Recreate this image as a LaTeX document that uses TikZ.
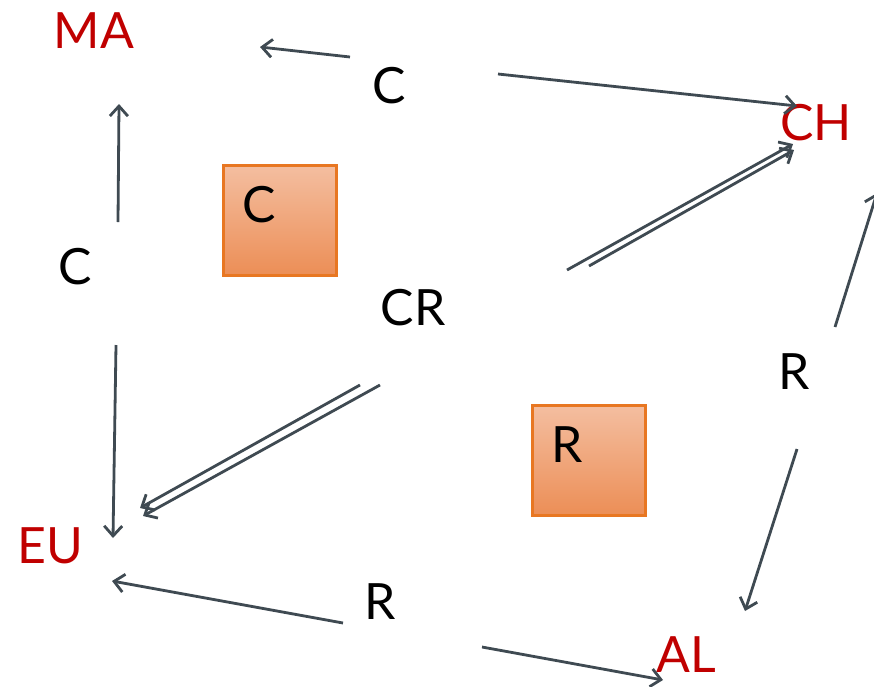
\documentclass[tikz,border=0pt]{standalone}
\usepackage{fontspec}
\setmainfont{Lato}
\usetikzlibrary{arrows.meta}
\definecolor{redtxt}{HTML}{C00000}
\definecolor{linec}{HTML}{3F4A52}
\definecolor{boxedge}{HTML}{E87722}
\definecolor{boxtop}{HTML}{F4BEA0}
\definecolor{boxbot}{HTML}{EC8E56}
\tikzset{
  lbl/.style={font=\fontsize{50}{50}\selectfont, text=black, inner sep=0pt},
  place/.style={lbl, text=redtxt},
  orbox/.style={draw=boxedge, line width=2.5pt, top color=boxtop, bottom color=boxbot, minimum width=113pt, minimum height=110pt, inner sep=0pt},
  conn/.style={draw=linec, line width=2.8pt, -{Straight Barb[length=10pt,width=18pt,line width=2.8pt]}}
}
\begin{document}
\begin{tikzpicture}[x=1pt,y=-1pt]
\useasboundingbox (0,0) rectangle (874,686);
\clip (0,0) rectangle (874,686);
% labels
\node[place] (MA) at (94,31) {MA};
\node[place] (CH) at (816,123) {CH};
\node[place] (EU) at (50,546) {EU};
\node[place] (AL) at (686,655) {AL};
\node[lbl] (Ctop) at (389,86) {C};
\node[lbl] (Cleft) at (75,267) {C};
\node[lbl] (CR) at (413,308) {CR};
\node[lbl] (Rright) at (794,372) {R};
\node[lbl] (Rbot) at (380,602) {R};
% boxes
\node[orbox] (boxC) at (280,220.5) {};
\node[lbl] (boxCt) at (259,205) {C};
\node[orbox] (boxR) at (589,460.5) {};
\node[lbl] (boxRt) at (567,445) {R};
% connector end points
\coordinate (a1s) at (350,57);   \coordinate (a1e) at (260,47);
\coordinate (a2s) at (498,74);   \coordinate (a2e) at (797,106);
\coordinate (a3s) at (118,222);  \coordinate (a3e) at (119,104);
\coordinate (a4s) at (116,345);  \coordinate (a4e) at (113,538);
\coordinate (a5s) at (567,270);  \coordinate (a5e) at (793,144);
\coordinate (a6s) at (589,266);  \coordinate (a6e) at (794,150);
\coordinate (a7s) at (360,385);  \coordinate (a7e) at (140,508);
\coordinate (a8s) at (380,385);  \coordinate (a8e) at (143,516);
\coordinate (a9s) at (835,327);  \coordinate (a9e) at (877,193);
\coordinate (b1s) at (797,449);  \coordinate (b1e) at (745,611);
\coordinate (b2s) at (343,623);  \coordinate (b2e) at (112,581);
\coordinate (b3s) at (482,647);  \coordinate (b3e) at (663,680);
% connectors
\draw[conn] (a1s) -- (a1e);
\draw[conn] (a2s) -- (a2e);
\draw[conn] (a3s) -- (a3e);
\draw[conn] (a4s) -- (a4e);
\draw[conn] (a5s) -- (a5e);
\draw[conn] (a6s) -- (a6e);
\draw[conn] (a7s) -- (a7e);
\draw[conn] (a8s) -- (a8e);
\draw[conn] (a9s) -- (a9e);
\draw[conn] (b1s) -- (b1e);
\draw[conn] (b2s) -- (b2e);
\draw[conn] (b3s) -- (b3e);
\end{tikzpicture}
\end{document}
